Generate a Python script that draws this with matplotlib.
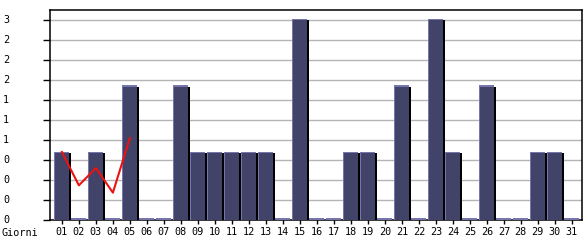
import matplotlib
matplotlib.use("Agg")
import matplotlib.pyplot as plt
import matplotlib.transforms as mtransforms
import numpy as np

days = ["%02d" % d for d in range(1, 32)]
values = [1, 0, 1, 0, 2, 0, 0, 2, 1, 1, 1, 1, 1, 0, 3, 0, 0, 1, 1, 0,
          2, 0, 3, 1, 0, 2, 0, 0, 1, 1, 0]
trend = [1.02, 0.52, 0.78, 0.41, 1.23]
yticks = [0, 0.3, 0.6, 0.9, 1.2, 1.5, 1.8, 2.1, 2.4, 2.7, 3.0]
ytick_labels = [str(int(v + 1e-9)) for v in yticks]
xlabel_text = "Giorni"

W, H = 585, 240
fig = plt.figure(figsize=(W / 100, H / 100), dpi=100)
ax = fig.add_axes([50 / W, 20 / H, 532 / W, 210 / H])

xmin, xmax = -0.7, 30.6
ymin, ymax = 0, 3.15
px_x = (xmax - xmin) / 532.0
px_y = (ymax - ymin) / 210.0

x = np.arange(len(days))
vals = np.array(values, dtype=float)
bw = 15 * px_x
# shadow, shifted right
ax.bar(x + 2 * px_x, vals, width=bw, color="black", linewidth=0, zorder=3)
# light edge bar (left/top highlight); zero days show as a thin line
light_h = np.where(vals > 0, vals + 1.5 * px_y, 2.2 * px_y)
ax.bar(x, light_h, width=bw, color="#7676ac", linewidth=0, zorder=3)
# dark body
ax.bar(x + 0.5 * px_x, vals, width=bw - px_x, color="#414368", linewidth=0,
       zorder=3)
ax.plot(np.arange(len(trend)), trend, color="#ee1111", linewidth=1.5, zorder=4)

ax.set_xlim(xmin, xmax)
ax.set_ylim(ymin, ymax)
ax.set_yticks(yticks)
ax.set_yticklabels([])
for yv in yticks[1:]:
    ax.axhline(yv, color="#b4b4b4", linewidth=1, zorder=1)

font = dict(family="DejaVu Sans Mono", size=7.3)
trans = mtransforms.blended_transform_factory(fig.transFigure, ax.transData)
for yv, lab in zip(yticks, ytick_labels):
    ax.text(3 / W, yv, lab, transform=trans, ha="left", va="center", **font)
ax.text(2 / W, 7 / H, xlabel_text, transform=fig.transFigure, ha="left",
        va="center", **font)

ax.set_xticks(x)
ax.set_xticklabels(days, **font)
ax.tick_params(axis="x", length=3, pad=2, width=1)
ax.tick_params(axis="y", length=5, width=1)
for s in ax.spines.values():
    s.set_color("black")
    s.set_linewidth(1.1)
    s.set_zorder(2.5)

fig.savefig("out.png", dpi=100)
